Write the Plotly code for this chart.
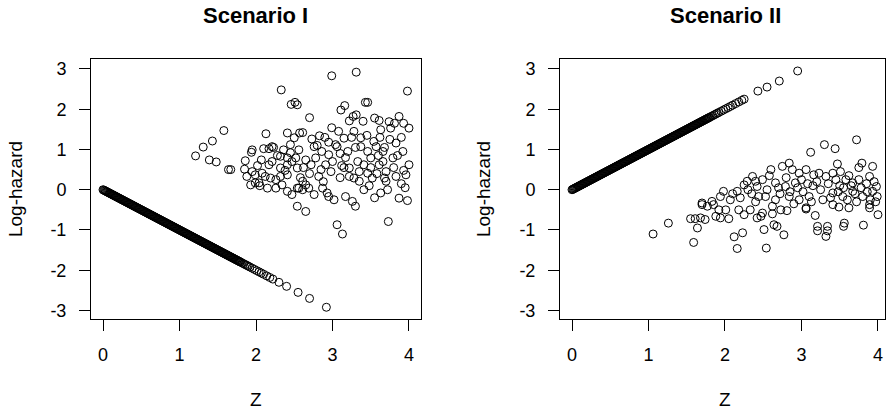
import plotly.graph_objects as go

# ---------------- data ----------------
panel_titles = ["Scenario I", "Scenario II"]
x_title = "Z"
y_title = "Log-hazard"
x_ticks = [0, 1, 2, 3, 4]
x_ticklabels = ["0", "1", "2", "3", "4"]
y_ticks = [-3, -2, -1, 0, 1, 2, 3]
y_ticklabels = ["-3", "-2", "-1", "0", "1", "2", "3"]

# Scenario I, group on the straight line
s1_line_z = [0.00,0.01,0.02,0.03,0.04,0.05,0.06,0.07,0.08,0.09,0.10,0.11,0.12,0.13,0.14,0.15,0.16,0.17,0.18,0.19,
             0.20,0.21,0.22,0.23,0.24,0.25,0.26,0.27,0.28,0.29,0.30,0.31,0.32,0.33,0.34,0.35,0.36,0.37,0.38,0.39,
             0.40,0.41,0.42,0.43,0.44,0.45,0.46,0.47,0.48,0.49,0.50,0.51,0.52,0.53,0.54,0.55,0.56,0.57,0.58,0.59,
             0.60,0.61,0.62,0.63,0.64,0.65,0.66,0.67,0.68,0.69,0.70,0.71,0.72,0.73,0.74,0.75,0.76,0.77,0.78,0.79,
             0.80,0.81,0.82,0.83,0.84,0.85,0.86,0.87,0.88,0.89,0.90,0.91,0.92,0.93,0.94,0.95,0.96,0.97,0.98,0.99,
             1.00,1.01,1.02,1.03,1.04,1.05,1.06,1.07,1.08,1.09,1.10,1.11,1.12,1.13,1.14,1.15,1.16,1.17,1.18,1.19,
             1.20,1.21,1.22,1.23,1.24,1.25,1.26,1.27,1.28,1.29,1.30,1.31,1.32,1.33,1.34,1.35,1.36,1.37,1.38,1.39,
             1.40,1.41,1.42,1.43,1.44,1.45,1.46,1.47,1.48,1.49,1.50,1.51,1.52,1.53,1.54,1.55,1.56,1.57,1.58,1.59,
             1.60,1.61,1.62,1.63,1.64,1.65,1.66,1.67,1.68,1.69,1.70,1.71,1.72,1.73,1.74,1.75,1.76,1.77,1.78,1.79,
             1.80,1.82,1.84,1.86,1.88,1.90,1.92,1.95,1.98,2.01,2.04,2.07,2.10,2.14,2.18,2.22,2.30,2.40,2.55,2.70,2.92]
s1_line_h = [0.00,-0.01,-0.02,-0.03,-0.04,-0.05,-0.06,-0.07,-0.08,-0.09,-0.10,-0.11,-0.12,-0.13,-0.14,-0.15,-0.16,-0.17,-0.18,-0.19,
             -0.20,-0.21,-0.22,-0.23,-0.24,-0.25,-0.26,-0.27,-0.28,-0.29,-0.30,-0.31,-0.32,-0.33,-0.34,-0.35,-0.36,-0.37,-0.38,-0.39,
             -0.40,-0.41,-0.42,-0.43,-0.44,-0.45,-0.46,-0.47,-0.48,-0.49,-0.50,-0.51,-0.52,-0.53,-0.54,-0.55,-0.56,-0.57,-0.58,-0.59,
             -0.60,-0.61,-0.62,-0.63,-0.64,-0.65,-0.66,-0.67,-0.68,-0.69,-0.70,-0.71,-0.72,-0.73,-0.74,-0.75,-0.76,-0.77,-0.78,-0.79,
             -0.80,-0.81,-0.82,-0.83,-0.84,-0.85,-0.86,-0.87,-0.88,-0.89,-0.90,-0.91,-0.92,-0.93,-0.94,-0.95,-0.96,-0.97,-0.98,-0.99,
             -1.00,-1.01,-1.02,-1.03,-1.04,-1.05,-1.06,-1.07,-1.08,-1.09,-1.10,-1.11,-1.12,-1.13,-1.14,-1.15,-1.16,-1.17,-1.18,-1.19,
             -1.20,-1.21,-1.22,-1.23,-1.24,-1.25,-1.26,-1.27,-1.28,-1.29,-1.30,-1.31,-1.32,-1.33,-1.34,-1.35,-1.36,-1.37,-1.38,-1.39,
             -1.40,-1.41,-1.42,-1.43,-1.44,-1.45,-1.46,-1.47,-1.48,-1.49,-1.50,-1.51,-1.52,-1.53,-1.54,-1.55,-1.56,-1.57,-1.58,-1.59,
             -1.60,-1.61,-1.62,-1.63,-1.64,-1.65,-1.66,-1.67,-1.68,-1.69,-1.70,-1.71,-1.72,-1.73,-1.74,-1.75,-1.76,-1.77,-1.78,-1.79,
             -1.80,-1.82,-1.84,-1.86,-1.88,-1.90,-1.92,-1.95,-1.98,-2.01,-2.04,-2.07,-2.10,-2.14,-2.18,-2.22,-2.30,-2.40,-2.55,-2.70,-2.92]

# Scenario I, scattered group
s1_cloud_z = [1.21,1.31,1.43,1.39,1.48,1.58,1.64,1.67,1.86,1.85,1.88,1.94,1.93,1.99,2.04,1.95,1.99,1.95,2.07,2.10,
              2.13,2.17,2.21,2.23,2.08,2.12,2.19,2.26,2.32,2.15,2.26,2.34,2.41,2.47,2.54,2.17,2.21,2.32,2.41,2.47,
              2.54,2.32,2.41,2.33,2.46,2.51,2.54,2.41,2.50,2.57,2.45,2.45,2.36,2.41,2.54,2.65,2.99,3.31,3.98,3.11,
              3.16,3.43,3.46,2.70,3.22,3.27,3.31,3.55,3.61,3.74,3.81,3.87,3.93,4.00,2.61,2.83,2.99,3.28,3.37,3.63,
              3.76,3.15,3.04,3.54,3.83,2.73,2.56,2.52,2.76,2.65,2.78,2.95,3.06,3.17,3.00,2.91,2.82,2.61,2.65,2.56,
              2.61,2.69,2.76,2.87,2.93,2.95,3.02,3.06,3.13,3.17,3.26,3.30,3.22,3.28,3.35,3.41,3.22,3.33,3.41,3.46,
              3.52,3.50,3.37,3.46,3.57,3.66,3.63,3.70,3.68,3.61,3.70,3.79,3.83,3.96,4.00,3.92,3.87,3.98,3.73,2.02,
              2.28,2.62,2.70,2.88,2.98,3.10,3.12,3.30,3.50,3.58,3.66,3.75,3.90,3.95,3.85,3.55,3.20,2.86,2.90,3.08,
              3.40,3.45,3.68,3.80,3.90,2.58,2.72,2.80,3.35,3.72,3.48,3.10,2.95,3.60,3.93,2.38,2.05,2.85,3.25,3.15,3.62]
s1_cloud_h = [0.84,1.06,1.21,0.74,0.69,1.47,0.50,0.50,0.72,0.51,0.33,0.93,0.12,0.17,0.17,0.45,0.37,0.99,0.74,1.02,
              1.39,1.02,1.07,1.05,0.41,0.33,0.29,0.25,0.33,0.04,0.04,0.12,-0.04,-0.12,0.04,0.62,0.70,0.83,0.62,0.70,
              0.54,0.54,0.37,2.48,2.12,2.17,2.11,1.41,1.29,1.41,1.12,0.92,0.99,0.79,-0.41,-0.54,2.83,2.92,2.45,1.98,
              2.09,2.17,2.17,1.79,1.71,1.82,1.86,1.78,1.72,1.69,1.65,1.82,1.65,1.53,1.42,1.34,1.54,1.45,1.29,1.49,
              1.53,1.28,1.12,1.20,1.16,1.26,0.99,0.79,1.07,0.74,0.79,0.87,1.07,0.80,0.70,0.62,0.33,0.21,0.12,0.04,
              0.00,0.04,-0.12,0.04,-0.08,-0.17,-0.25,-0.87,-1.10,-0.17,-0.29,-0.41,0.33,0.29,0.21,0.00,0.54,0.70,0.62,0.41,
              0.29,0.79,1.07,0.95,1.07,0.95,-0.08,0.21,0.29,0.62,0.45,0.79,0.33,0.37,0.62,0.95,-0.21,-0.27,-0.79,0.60,
              0.85,0.55,0.40,0.20,0.45,0.30,0.60,1.05,0.55,0.40,0.70,1.25,1.30,0.05,0.85,-0.20,0.95,0.95,1.30,1.45,
              1.70,1.35,1.05,0.55,0.15,0.30,0.62,1.10,0.45,0.00,0.10,0.90,1.18,0.85,0.48,0.48,0.10,0.50,1.30,0.55,1.30]

# Scenario II, group on the straight line
s2_line_z = [0.00,0.01,0.02,0.03,0.04,0.05,0.06,0.07,0.08,0.09,0.10,0.11,0.12,0.13,0.14,0.15,0.16,0.17,0.18,0.19,
             0.20,0.21,0.22,0.23,0.24,0.25,0.26,0.27,0.28,0.29,0.30,0.31,0.32,0.33,0.34,0.35,0.36,0.37,0.38,0.39,
             0.40,0.41,0.42,0.43,0.44,0.45,0.46,0.47,0.48,0.49,0.50,0.51,0.52,0.53,0.54,0.55,0.56,0.57,0.58,0.59,
             0.60,0.61,0.62,0.63,0.64,0.65,0.66,0.67,0.68,0.69,0.70,0.71,0.72,0.73,0.74,0.75,0.76,0.77,0.78,0.79,
             0.80,0.81,0.82,0.83,0.84,0.85,0.86,0.87,0.88,0.89,0.90,0.91,0.92,0.93,0.94,0.95,0.96,0.97,0.98,0.99,
             1.00,1.01,1.02,1.03,1.04,1.05,1.06,1.07,1.08,1.09,1.10,1.11,1.12,1.13,1.14,1.15,1.16,1.17,1.18,1.19,
             1.20,1.21,1.22,1.23,1.24,1.25,1.26,1.27,1.28,1.29,1.30,1.31,1.32,1.33,1.34,1.35,1.36,1.37,1.38,1.39,
             1.40,1.41,1.42,1.43,1.44,1.45,1.46,1.47,1.48,1.49,1.50,1.51,1.52,1.53,1.54,1.55,1.56,1.57,1.58,1.59,
             1.60,1.61,1.62,1.63,1.64,1.65,1.66,1.67,1.68,1.69,1.70,1.71,1.72,1.73,1.74,1.75,1.76,1.77,1.78,1.79,
             1.80,1.82,1.84,1.86,1.88,1.90,1.92,1.95,1.98,2.01,2.04,2.07,2.10,2.14,2.18,2.22,2.25,2.43,2.55,2.71,2.95]
s2_line_h = [0.00,0.01,0.02,0.03,0.04,0.05,0.06,0.07,0.08,0.09,0.10,0.11,0.12,0.13,0.14,0.15,0.16,0.17,0.18,0.19,
             0.20,0.21,0.22,0.23,0.24,0.25,0.26,0.27,0.28,0.29,0.30,0.31,0.32,0.33,0.34,0.35,0.36,0.37,0.38,0.39,
             0.40,0.41,0.42,0.43,0.44,0.45,0.46,0.47,0.48,0.49,0.50,0.51,0.52,0.53,0.54,0.55,0.56,0.57,0.58,0.59,
             0.60,0.61,0.62,0.63,0.64,0.65,0.66,0.67,0.68,0.69,0.70,0.71,0.72,0.73,0.74,0.75,0.76,0.77,0.78,0.79,
             0.80,0.81,0.82,0.83,0.84,0.85,0.86,0.87,0.88,0.89,0.90,0.91,0.92,0.93,0.94,0.95,0.96,0.97,0.98,0.99,
             1.00,1.01,1.02,1.03,1.04,1.05,1.06,1.07,1.08,1.09,1.10,1.11,1.12,1.13,1.14,1.15,1.16,1.17,1.18,1.19,
             1.20,1.21,1.22,1.23,1.24,1.25,1.26,1.27,1.28,1.29,1.30,1.31,1.32,1.33,1.34,1.35,1.36,1.37,1.38,1.39,
             1.40,1.41,1.42,1.43,1.44,1.45,1.46,1.47,1.48,1.49,1.50,1.51,1.52,1.53,1.54,1.55,1.56,1.57,1.58,1.59,
             1.60,1.61,1.62,1.63,1.64,1.65,1.66,1.67,1.68,1.69,1.70,1.71,1.72,1.73,1.74,1.75,1.76,1.77,1.78,1.79,
             1.80,1.82,1.84,1.86,1.88,1.90,1.92,1.95,1.98,2.01,2.04,2.07,2.10,2.14,2.18,2.22,2.25,2.45,2.55,2.70,2.95]

# Scenario II, scattered group
s2_cloud_z = [1.06,1.26,1.55,1.61,1.68,1.74,1.64,1.59,1.88,1.94,2.05,2.01,1.92,2.18,2.25,2.33,2.42,2.12,2.23,2.16,
              1.70,1.77,1.85,1.70,1.83,1.98,2.07,2.16,2.25,2.29,2.36,2.40,2.42,2.44,1.94,2.54,2.51,2.64,2.68,2.77,
              2.47,2.49,2.62,2.73,2.81,3.06,3.18,3.21,3.21,3.34,3.34,3.32,3.56,3.55,3.81,4.00,3.62,3.41,3.89,3.12,
              3.30,3.44,3.72,3.47,3.79,3.93,2.60,2.75,2.84,2.88,2.97,3.06,3.16,3.23,3.32,3.41,3.51,3.58,3.67,3.75,
              3.89,3.98,2.49,2.66,2.79,2.92,2.53,2.66,2.84,2.97,3.10,3.28,3.41,3.54,3.67,3.80,3.93,3.99,2.62,3.06,
              3.49,3.89,2.30,2.55,2.70,2.85,2.95,3.00,3.15,3.25,3.35,3.45,3.55,3.62,3.70,3.78,3.85,3.95,2.40,2.58,
              2.72,2.90,3.02,3.13,3.38,3.48,3.60,3.72,3.86,3.97,2.20,2.10,3.20,3.50,3.75,2.80,3.08,3.65,3.90,2.35]
s2_cloud_h = [-1.10,-0.83,-0.72,-0.72,-0.70,-0.74,-0.95,-1.31,-0.66,-0.70,-0.72,-0.50,-0.50,-0.50,-0.62,-0.50,-0.70,-1.17,-1.07,-1.46,
              -0.37,-0.41,-0.37,-0.33,-0.29,-0.04,-0.25,-0.04,0.12,0.21,0.33,0.21,0.08,-0.17,-0.17,-1.45,-0.99,-0.87,-0.91,-1.12,
              -0.66,-0.58,-0.60,-0.50,-0.52,-0.48,-0.64,-0.91,-1.02,-0.91,-1.02,-1.16,-0.83,-0.91,-0.88,-0.62,-0.45,-0.37,-0.45,0.93,
              1.12,1.02,1.24,0.64,0.66,0.58,0.50,0.58,0.66,0.50,0.41,0.50,0.37,0.41,0.33,0.41,0.45,0.25,0.17,0.25,
              0.33,0.08,0.25,0.17,0.08,0.17,-0.17,-0.25,-0.17,-0.25,-0.17,-0.25,-0.08,-0.17,-0.04,-0.17,-0.04,-0.17,-0.41,-0.45,
              -0.43,-0.37,0.00,0.00,0.05,-0.05,0.05,0.25,0.10,0.00,0.15,0.25,0.05,0.35,-0.10,0.05,0.15,0.20,-0.30,0.35,
              -0.10,-0.35,-0.05,-0.30,-0.20,-0.05,-0.25,-0.30,-0.05,-0.30,-0.20,-0.10,0.20,0.10,0.55,0.30,0.15,0.10,-0.25,-0.10]

# ---------------- figure ----------------
FONT = "Liberation Sans, Arial, sans-serif"
marker = dict(symbol="circle-open", size=8, color="black", line=dict(width=1, color="black"))

W, H = 886, 411


def px(x):
    return x / W


def py(y):
    return 1 - y / H


fig = go.Figure()
panels = [(s1_line_z, s1_line_h, s1_cloud_z, s1_cloud_h, "x", "y"),
          (s2_line_z, s2_line_h, s2_cloud_z, s2_cloud_h, "x2", "y2")]
for lz, lh, cz, ch, xa, ya in panels:
    fig.add_trace(go.Scatter(x=lz, y=lh, mode="markers", marker=marker, xaxis=xa, yaxis=ya,
                             showlegend=False, hoverinfo="skip"))
    fig.add_trace(go.Scatter(x=cz, y=ch, mode="markers", marker=marker, xaxis=xa, yaxis=ya,
                             showlegend=False, hoverinfo="skip"))

common_x = dict(tickvals=x_ticks, ticktext=x_ticklabels, showgrid=False, zeroline=False,
                showline=True, mirror=True, linecolor="black", linewidth=1,
                ticks="outside", ticklen=11, tickwidth=1, tickcolor="black",
                tickfont=dict(family=FONT, size=18, color="black"), ticklabelstandoff=8)
common_y = dict(tickvals=y_ticks, ticktext=y_ticklabels, showgrid=False, zeroline=False,
                showline=True, mirror=True, linecolor="black", linewidth=1,
                ticks="outside", ticklen=11, tickwidth=1, tickcolor="black",
                tickfont=dict(family=FONT, size=18, color="black"), ticklabelstandoff=9,
                range=[-3.215, 3.247])

y_dom = [py(320.7), py(59.3)]
fig.update_layout(
    width=W, height=H, margin=dict(l=0, r=0, t=0, b=0),
    paper_bgcolor="white", plot_bgcolor="white",
    xaxis=dict(common_x, domain=[px(91), px(421)], range=[-0.157, 4.157], anchor="y"),
    yaxis=dict(common_y, domain=y_dom, anchor="x"),
    xaxis2=dict(common_x, domain=[px(560), px(885)], range=[-0.157, 4.092], anchor="y2"),
    yaxis2=dict(common_y, domain=y_dom, anchor="x2"),
)

ann = []
for cx, ttl, ylx in [(255.5, panel_titles[0], 15), (725, panel_titles[1], 483)]:
    ann.append(dict(text="<b>" + ttl + "</b>", x=px(cx), y=py(16), xref="paper", yref="paper",
                    showarrow=False, xanchor="center", yanchor="middle",
                    font=dict(family=FONT, size=22, color="black")))
    ann.append(dict(text=x_title, x=px(cx), y=py(401), xref="paper", yref="paper",
                    showarrow=False, xanchor="center", yanchor="middle",
                    font=dict(family=FONT, size=19, color="black")))
    ann.append(dict(text=y_title, x=px(ylx), y=py(190), xref="paper", yref="paper",
                    showarrow=False, xanchor="center", yanchor="middle", textangle=-90,
                    font=dict(family=FONT, size=19, color="black")))
fig.update_layout(annotations=ann)

# remove the browser's default 8px body margin so the figure sits at the window origin
fig.write_html("out.html", config={"displayModeBar": False},
               post_script="document.body.style.margin='0';document.body.style.overflow='hidden';")
